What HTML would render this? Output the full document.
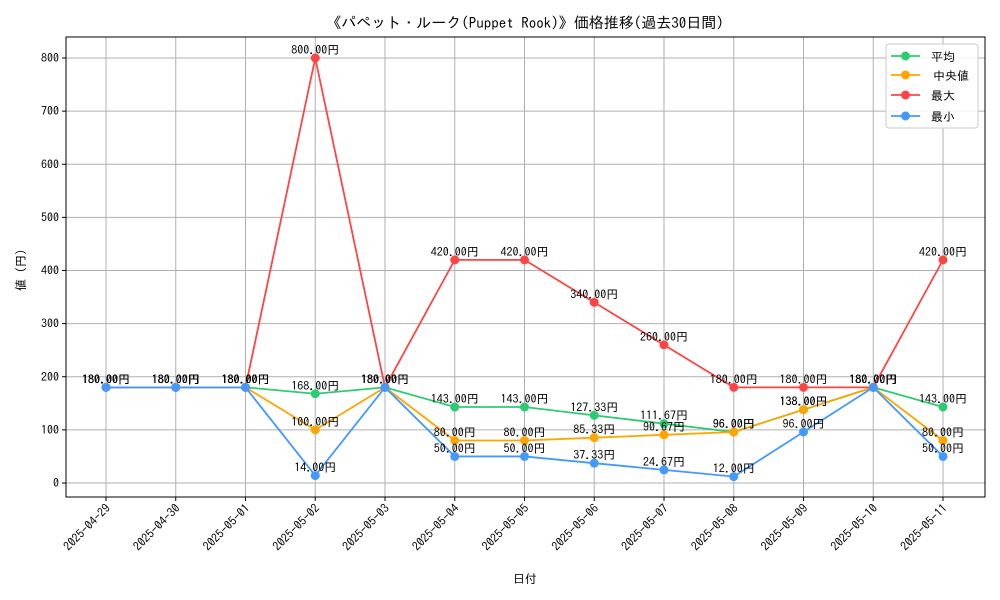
<!DOCTYPE html>
<html><head><meta charset="utf-8">
<style>
html,body{margin:0;padding:0;background:#fff;}
svg{display:block;font-family:"IPAGothic","Noto Sans CJK JP",sans-serif;}
</style></head>
<body>
<svg id="chart" width="1000" height="600" viewBox="0 0 1000 600">
<rect x="0" y="0" width="1000" height="600" fill="#fff"/>
<text x="525" y="28" text-anchor="middle" font-size="15">《パペット・ルーク(Puppet Rook)》価格推移(過去30日間)</text>
<g id="grid"></g>
<g id="axes"></g>
<g id="series"></g>
<g id="labels"></g>
<rect x="66" y="37" width="919" height="460" fill="none" stroke="#000" stroke-width="1"/>
<text x="525" y="583" text-anchor="middle" font-size="12">日付</text>
<text transform="translate(25,270) rotate(-90)" text-anchor="middle" font-size="12">値 (円)</text>
<g id="legend"></g>
</svg>
<script>
const categories = ["2025-04-29","2025-04-30","2025-05-01","2025-05-02","2025-05-03","2025-05-04","2025-05-05","2025-05-06","2025-05-07","2025-05-08","2025-05-09","2025-05-10","2025-05-11"];
const avgValues = [180,180,180,168,180,143,143,127.33,111.67,96,138,180,143];
const medianValues = [180,180,180,100,180,80,80,85.33,90.67,96,138,180,80];
const maxValues = [180,180,180,800,180,420,420,340,260,180,180,180,420];
const minValues = [180,180,180,14,180,50,50,37.33,24.67,12,96,180,50];
const yTicks = [0,100,200,300,400,500,600,700,800];
const seriesNames = ["平均","中央値","最大","最小"];

const NS = "http://www.w3.org/2000/svg";
const L=66,R=985,T=37,B=497;
const X0=106, XSTEP=69.75;
function xScale(i){return X0+i*XSTEP;}
function yScale(v){return 483 - v*(425/800);}
function mk(tag, attrs, parent){const e=document.createElementNS(NS,tag);for(const k in attrs)e.setAttribute(k,attrs[k]);parent.appendChild(e);return e;}

const grid=document.getElementById('grid'), axes=document.getElementById('axes');
yTicks.forEach(t=>{
  const y=yScale(t);
  const g=mk('line',{x1:L,x2:R,y1:y,y2:y,stroke:'#b0b0b0','stroke-width':1},grid);
  
  
  mk('line',{x1:L-4,x2:L,y1:y,y2:y,stroke:'#000'},axes);
  const tx=mk('text',{x:L-7,y:y+4,'text-anchor':'end','font-size':12},axes);
  tx.textContent=t;
  
  
});
categories.forEach((c,i)=>{
  const x=xScale(i);
  const g=mk('line',{x1:x,x2:x,y1:T,y2:B,stroke:'#b0b0b0','stroke-width':1},grid);
  
  
  mk('line',{x1:x,x2:x,y1:B,y2:B+4,stroke:'#000'},axes);
  const tx=mk('text',{x:0,y:0,'text-anchor':'end','font-size':12,transform:`translate(${x+5},${B+12}) rotate(-45)`},axes);
  tx.textContent=c;
  
  
});

const seriesList=[
  {name:seriesNames[0],vals:avgValues,color:'#2ecc71',key:'avg'},
  {name:seriesNames[1],vals:medianValues,color:'#ffa500',key:'median'},
  {name:seriesNames[2],vals:maxValues,color:'#ff4444',key:'max'},
  {name:seriesNames[3],vals:minValues,color:'#4499ff',key:'min'}
];
const sg=document.getElementById('series'), lg=document.getElementById('labels'), leg=document.getElementById('legend');
seriesList.forEach(s=>{
  const pts=s.vals.map((v,i)=>xScale(i)+','+yScale(v)).join(' ');
  const pl=mk('polyline',{points:pts,fill:'none',stroke:s.color,'stroke-width':1.8},sg);
  
  
  s.vals.forEach((v,i)=>{
    const c=mk('circle',{cx:xScale(i),cy:yScale(v),r:4.5,fill:s.color},sg);
    
    
  });
});
seriesList.forEach(s=>{
  s.vals.forEach((v,i)=>{
    const t=mk('text',{x:xScale(i),y:yScale(v)-4,'text-anchor':'middle','font-size':12},lg);
    t.textContent=v.toFixed(2)+'円';
    
    
  });
});
// legend
const lb=mk('rect',{x:886,y:44,width:92,height:84,rx:3,fill:'#fff','fill-opacity':0.85,stroke:'#ccc'},leg);


const legY=[56,75,95,116];
seriesList.forEach((s,k)=>{
  const y=legY[k];
  const g=mk('g',{},leg);
  
  
  mk('line',{x1:891,x2:920,y1:y,y2:y,stroke:s.color,'stroke-width':1.8},g);
  mk('circle',{cx:905.5,cy:y,r:4.5,fill:s.color},g);
  const t=mk('text',{x:s.key==='median'?933:931,y:y+5,'font-size':12},g);
  t.textContent=s.name;
});
</script>
</body></html>
